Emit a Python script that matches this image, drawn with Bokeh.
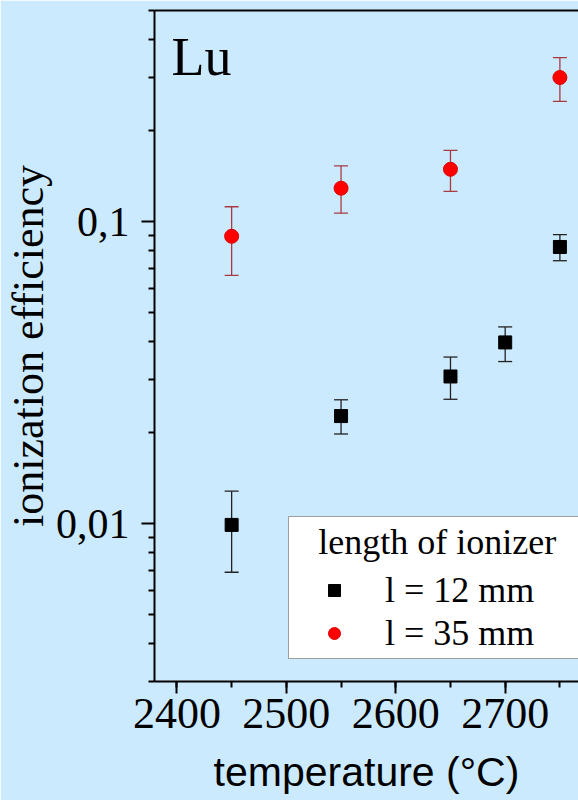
from bokeh.plotting import figure
from bokeh.models import (ColumnDataSource, Whisker, TeeHead, FixedTicker,
                          SingleIntervalTicker, LinearAxis, Legend, LegendItem,
                          Label, Range1d)
from bokeh.embed import file_html
from bokeh.resources import INLINE

# ---- data ----
temp_12 = [2450, 2550, 2650, 2700, 2750]
eff_12 = [0.0099, 0.0227, 0.0307, 0.0398, 0.0824]
lo_12 = [0.0069, 0.0198, 0.0258, 0.0344, 0.0742]
hi_12 = [0.0128, 0.0257, 0.0356, 0.0448, 0.0905]

temp_35 = [2450, 2550, 2650, 2750]
eff_35 = [0.0894, 0.129, 0.149, 0.300]
lo_35 = [0.0664, 0.1066, 0.126, 0.250]
hi_35 = [0.112, 0.153, 0.172, 0.349]

y_major = [0.01, 0.1]
y_labels = {0.01: "0,01", 0.1: "0,1"}
x_start, x_end = 2379.5, 2767
y_start, y_end = 0.003, 0.5

BG = "#cceafd"
SERIF = "Liberation Serif"

p = figure(width=578, height=800, y_axis_type="log",
           x_range=Range1d(x_start, x_end), y_range=Range1d(y_start, y_end),
           output_backend="svg", toolbar_location=None,
           min_border_left=150, min_border_right=0, min_border_top=10,
           min_border_bottom=119)
p.background_fill_color = BG
p.border_fill_color = BG
p.outline_line_color = None
p.grid.visible = False

src12 = ColumnDataSource(dict(t=temp_12, e=eff_12, lo=lo_12, hi=hi_12))
src35 = ColumnDataSource(dict(t=temp_35, e=eff_35, lo=lo_35, hi=hi_35))

for src, col in ((src12, "#222222"), (src35, "#a83a44")):
    w = Whisker(source=src, base="t", lower="lo", upper="hi", dimension="height",
                line_color=col, line_width=1.3,
                upper_head=TeeHead(size=14, line_color=col, line_width=1.3),
                lower_head=TeeHead(size=14, line_color=col, line_width=1.3))
    p.add_layout(w)

r12 = p.scatter(x="t", y="e", source=src12, marker="square", size=13,
                fill_color="black", line_color="black")
r35 = p.scatter(x="t", y="e", source=src35, marker="circle", size=14,
                fill_color="#ff0000", line_color="#e00000")

# axes
minor = [m * 10.0 ** e for e in (-3, -2, -1) for m in range(1, 10)]
minor = [v for v in minor if y_start * 0.999 <= v <= y_end * 1.001 and v not in y_major]
p.yaxis.ticker = FixedTicker(ticks=y_major, minor_ticks=minor)
p.yaxis.major_label_overrides = y_labels
p.xaxis.ticker = SingleIntervalTicker(interval=100, num_minor_ticks=2)

for ax in (p.xaxis[0], p.yaxis[0]):
    ax.axis_line_width = 2
    ax.axis_line_color = "black"
    ax.major_tick_line_width = 2
    ax.minor_tick_line_width = 2
    ax.major_tick_in = 0
    ax.minor_tick_in = 0
    ax.minor_tick_out = 6
    ax.major_label_text_font = SERIF
    ax.major_label_text_color = "black"
    ax.axis_label_text_font_style = "normal"
    ax.axis_label_text_color = "black"

p.yaxis.major_tick_out = 13
p.yaxis.major_label_standoff = 12
p.yaxis.major_label_text_font_size = "42px"
p.yaxis.axis_label = "ionization efficiency"
p.yaxis.axis_label_text_font = SERIF
p.yaxis.axis_label_text_font_size = "44px"
p.yaxis.axis_label_standoff = 0

p.xaxis.major_tick_out = 12
p.xaxis.major_label_standoff = 5
p.xaxis.major_label_text_font_size = "44px"
p.xaxis.axis_label = "temperature (°C)"
p.xaxis.axis_label_text_font = "Liberation Sans"
p.xaxis.axis_label_text_font_size = "41px"
p.xaxis.axis_label_standoff = 18

top = LinearAxis(ticker=FixedTicker(ticks=[]), axis_line_width=2,
                 axis_line_color="black", major_tick_out=0, minor_tick_out=0,
                 major_tick_in=0, minor_tick_in=0, major_label_standoff=0,
                 major_label_text_font_size="0px")
p.add_layout(top, "above")

p.add_layout(Label(x=2395, y=0.350, text="Lu", text_font=SERIF,
                   text_font_size="54px", text_color="black",
                   text_baseline="middle"))

legend = Legend(items=[LegendItem(label="l = 12 mm", renderers=[r12]),
                       LegendItem(label="l = 35 mm", renderers=[r35])],
                title="\u2002\u2009length of ionizer", location=(134, 22))
legend.background_fill_color = "white"
legend.background_fill_alpha = 1
legend.border_line_color = "#404040"
legend.border_line_width = 1.2
legend.padding = 4
legend.spacing = 1
legend.margin = 0
legend.glyph_width = 82
legend.glyph_height = 30
legend.label_standoff = 10
legend.label_width = 260
legend.label_text_font = SERIF
legend.label_text_font_size = "36px"
legend.label_text_color = "black"
legend.title_text_font = SERIF
legend.title_text_font_size = "36px"
legend.title_text_font_style = "normal"
legend.title_text_color = "black"
legend.title_standoff = 6
p.add_layout(legend)

open("out.html", "w").write(file_html(p, INLINE))
